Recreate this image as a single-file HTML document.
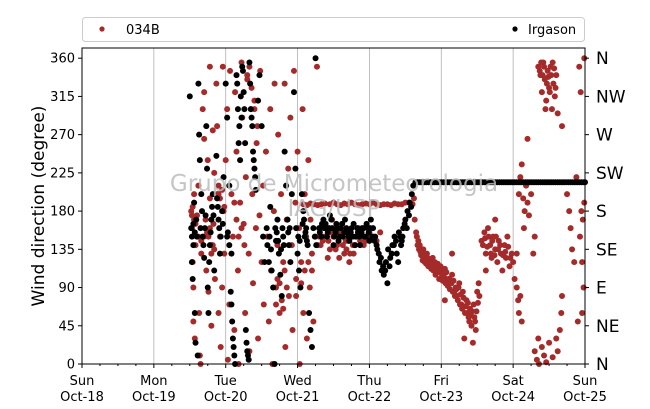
<!DOCTYPE html>
<html><head><meta charset="utf-8">
<style>
html,body{margin:0;padding:0;background:#fff;}
svg{display:block;font-family:"DejaVu Sans","Liberation Sans",sans-serif;}
</style></head>
<body>
<svg id="chart" width="650" height="409" viewBox="0 0 650 409"></svg>
<script>
const dayLabels=[["Sun","Oct-18"],["Mon","Oct-19"],["Tue","Oct-20"],["Wed","Oct-21"],["Thu","Oct-22"],["Fri","Oct-23"],["Sat","Oct-24"],["Sun","Oct-25"]];
const yTicks=[0,45,90,135,180,225,270,315,360];
const compassLabels=["N","NE","E","SE","S","SW","W","NW","N"];
const red034B=[
[1.52,180],[1.53,160],[1.54,120],[1.55,90],[1.55,50],[1.56,200],[1.57,30],[1.58,140],[1.6,175],[1.62,210],[1.63,60],[1.64,10],[1.65,0],[1.66,130],[1.68,300],[1.7,320],[1.7,265],[1.72,170],[1.73,110],[1.74,155],[1.75,240],[1.76,85],[1.78,350],[1.78,195],[1.8,140],[1.8,45],[1.82,275],[1.83,165],[1.84,225],[1.85,100],
[1.53,175],[1.54,185],[1.56,170],[1.58,165],[1.62,150],[1.66,145],[1.7,150],[1.76,150],[1.78,160],[1.8,130],[1.82,140],[1.84,135],
[1.87,330],[1.88,280],[1.9,200],[1.9,60],[1.92,150],[1.93,20],[1.95,90],[1.96,350],[1.97,180],[1.98,130],[2.0,240],[2.02,300],[2.03,5],[2.05,70],[2.06,345],[2.08,200],[2.1,150],[2.12,40],[2.13,320],[2.15,250],[2.17,110],[2.18,0],[2.2,190],[2.22,355],[2.23,290],[2.25,165],[2.27,60],[2.28,220],[2.3,340],[2.32,130],[2.33,15],[2.35,300],[2.37,200],[2.38,95],[2.4,310],[2.42,160],[2.43,260],[2.45,30],[2.47,175],[2.48,345],[2.5,120],[2.52,210],[2.53,70],
[1.88,200],[1.9,210],[1.92,195],[1.95,205],[1.98,185],[2.12,190],[2.15,170],[2.18,150],[2.22,160],[2.26,140],[2.3,335],[2.33,350],[2.36,325],[2.4,300],[2.44,280],
[2.56,250],[2.58,150],[2.6,50],[2.62,300],[2.63,110],[2.65,0],[2.67,180],[2.68,330],[2.7,90],[2.72,140],[2.73,270],[2.75,60],[2.77,200],[2.8,120],[2.82,330],[2.83,20],[2.85,170],[2.87,230],[2.88,80],[2.9,290],[2.92,140],[2.93,40],[2.95,345],[2.97,190],[2.98,100],[3.0,250],[3.02,160],[3.03,0],[3.05,120],[3.07,300],[3.08,60],[3.1,200],[3.12,150],[3.13,30],[3.15,240],[3.17,90],[3.18,170],[3.2,130],[3.22,50],[3.25,150],[3.27,350],[3.28,140],
[2.7,70],[2.72,100],[2.75,95],[2.78,75],[2.8,65],[2.82,110],[2.85,90],[2.98,80],[3.05,95],[3.1,110],[3.15,120],[3.2,110],
[3.3,150],[3.35,145],[3.4,160],[3.45,135],[3.5,150],[3.55,140],[3.6,155],[3.65,130],[3.7,145],[3.75,150],[3.8,140],[3.85,160],[3.9,150],[3.95,145],[4.0,155],[4.05,150],[4.1,145],[4.15,155],[3.42,125],[3.58,125],[3.72,120],[3.62,165],[3.48,170],[3.78,130],[3.68,135],[3.52,160],
[3.32,140],[3.37,150],[3.43,145],[3.47,155],[3.53,135],[3.57,150],[3.63,140],[3.67,145],[3.73,130],[3.77,140],[3.82,150],[3.87,145],[3.92,140],[3.97,150],
[3.08,188],[3.13,187],[3.18,189],[3.23,188],[3.28,187],[3.33,188],[3.38,189],[3.45,188],[3.5,190],[3.55,188],[3.6,187],[3.65,189],[3.7,188],[3.75,190],[3.8,188],[3.85,187],[3.9,188],[3.95,189],[4.0,188],[4.05,190],[4.1,188],[4.15,187],[4.2,188],[4.25,188],[4.3,187],[4.35,189],[4.4,188],[4.45,188],[4.5,190],[4.55,190],[4.6,188],[4.62,195],
[4.63,170],[4.65,155],[4.68,145],[4.7,140],[4.75,135],[4.78,125],[4.8,130],[4.85,120],[4.88,125],[4.9,115],[4.95,118],[5.0,110],[5.03,105],[5.05,112],[5.1,100],[5.13,95],[5.15,105],[5.2,90],[5.22,80],[5.25,95],[5.28,70],[5.3,85],[5.33,60],[5.35,75],[5.38,55],[5.4,65],[5.42,45],[5.45,70],[5.47,50],[5.5,85],[5.52,95],[5.05,75],[5.15,130],[5.32,30],[5.48,40],[5.44,25],[4.72,128],[4.83,118],[4.93,108],[5.08,98],[5.18,85],
[4.66,150],[4.67,140],[4.69,135],[4.71,132],[4.73,128],[4.74,122],[4.76,130],[4.77,120],[4.79,118],[4.81,125],[4.82,115],[4.84,122],[4.86,112],[4.87,118],[4.89,110],[4.91,120],[4.92,105],[4.94,112],[4.96,108],[4.97,100],[4.99,115],[5.01,105],[5.02,98],[5.04,102],[5.06,95],[5.07,108],[5.09,92],[5.11,100],[5.12,88],[5.14,95],[5.16,85],[5.17,98],[5.19,80],[5.21,88],[5.23,75],[5.24,90],[5.26,70],[5.27,82],[5.29,65],[5.31,78],[5.34,68],[5.36,60],[5.37,72],[5.39,50],[5.41,58],[5.43,62],[5.46,55],[5.49,62],[5.51,72],[5.53,80],
[5.56,145],[5.6,155],[5.62,130],[5.65,160],[5.68,140],[5.7,125],[5.72,150],[5.75,135],[5.78,120],[5.8,145],[5.83,130],[5.85,110],[5.88,140],[5.9,125],[5.92,150],[5.95,115],[5.98,130],[6.0,120],[6.02,100],[5.75,170],[5.62,110],
[5.58,140],[5.61,148],[5.64,138],[5.66,150],[5.69,130],[5.71,145],[5.74,128],[5.76,150],[5.79,135],[5.82,140],[5.86,128],[5.89,132],[5.93,138],[5.96,125],
[6.05,90],[6.07,75],[6.08,60],[6.1,80],[6.12,50],[6.05,130],
[6.08,200],[6.1,220],[6.12,235],[6.14,195],[6.16,180],[6.18,210],[6.2,190],[6.22,175],[6.25,200],[6.15,160],[6.3,150],[6.28,130],[6.2,265],
[6.3,15],[6.33,5],[6.36,0],[6.4,20],[6.43,10],[6.46,2],[6.5,25],[6.55,8],[6.6,30],[6.62,15],[6.65,40],[6.67,60],[6.68,80],[6.35,30],
[6.35,350],[6.38,340],[6.4,320],[6.42,355],[6.44,335],[6.46,310],[6.48,345],[6.5,325],[6.52,350],[6.54,300],[6.56,330],[6.58,315],[6.6,340],[6.62,295],[6.55,355],[6.45,300],[6.68,280],
[6.37,345],[6.39,355],[6.41,340],[6.43,350],[6.47,330],[6.49,338],[6.51,320],[6.53,340],[6.57,348],[6.59,325],
[6.75,200],[6.78,180],[6.8,160],[6.82,135],[6.85,120],[6.88,220],[6.9,50],[6.92,350],[6.95,180],[6.97,170],[6.99,190],[6.93,150],[6.96,120],[6.98,90],[6.94,320],[6.99,360],[6.96,60]
];
const blackIrgason=[
[1.5,315],[1.52,160],[1.53,120],[1.54,100],[1.55,140],[1.56,190],[1.57,60],[1.58,25],[1.6,150],[1.61,10],[1.62,330],[1.63,270],[1.64,240],[1.66,200],[1.67,180],[1.68,150],[1.7,125],[1.72,175],[1.73,280],[1.74,230],[1.75,90],[1.76,60],[1.78,140],[1.8,170],[1.82,200],[1.84,110],
[1.53,150],[1.55,165],[1.57,155],[1.59,170],[1.65,160],[1.69,140],[1.71,160],[1.77,120],[1.79,155],[1.81,185],[1.83,175],
[1.87,245],[1.88,195],[1.9,170],[1.92,130],[1.95,180],[1.97,220],[2.0,330],[2.02,290],[2.03,155],[2.05,210],[2.07,85],[2.08,70],[2.1,30],[2.12,10],[2.13,0],[2.15,340],[2.17,300],[2.18,260],[2.2,240],[2.22,290],[2.23,350],[2.25,320],[2.27,260],[2.28,40],[2.3,15],[2.32,5],[2.33,355],[2.35,300],[2.37,280],[2.38,250],[2.4,230],[2.42,205],[2.45,310],[2.47,340],[2.5,280],[2.52,150],[2.54,120],[2.02,150],[2.05,140],[2.08,130],
[1.89,185],[1.91,160],[1.93,150],[1.96,165],[2.09,50],[2.11,20],[2.16,330],[2.19,280],[2.21,315],[2.24,345],[2.26,300],[2.29,25],[2.31,10],[2.34,330],[2.36,290],[2.39,240],[2.41,220],
[2.57,160],[2.58,140],[2.6,120],[2.62,185],[2.64,110],[2.66,90],[2.68,0],[2.7,145],[2.72,170],[2.74,130],[2.76,105],[2.78,80],[2.8,150],[2.82,250],[2.84,210],[2.86,170],[2.88,140],[2.9,120],[2.92,200],[2.95,320],[2.97,230],[2.98,160],[3.0,130],[3.02,110],[3.04,90],[3.06,200],[3.08,180],[3.1,150],[3.12,160],[3.14,140],[3.16,60],[3.18,40],[3.2,20],[3.22,160],[3.24,150],[3.25,360],[3.26,140],
[2.61,150],[2.63,135],[2.69,160],[2.71,155],[2.73,145],[2.77,135],[2.79,160],[2.81,140],[2.87,155],[2.89,160],[3.01,150],[3.03,145],[3.07,165],[3.09,170],[3.11,155],[3.13,145],
[3.3,160],[3.33,150],[3.36,170],[3.39,165],[3.42,155],[3.45,175],[3.48,160],[3.51,150],[3.54,165],[3.57,145],[3.6,160],[3.63,150],[3.66,170],[3.69,155],[3.72,145],[3.75,160],[3.78,165],[3.81,150],[3.84,155],[3.87,140],[3.9,160],[3.93,150],[3.96,165],[3.99,155],[4.02,170],[4.05,160],[4.08,150],[4.11,135],[4.14,120],[4.17,110],[4.2,105],[4.23,120],[4.26,135],[4.29,125],[4.32,140],[4.35,150],[4.38,130],[4.41,155],[4.44,140],[4.47,160],[4.5,170],[4.53,180],[4.56,190],[4.59,200],[4.61,210],[4.25,95],[4.4,120],[4.45,145],[3.5,140],[3.8,140],[4.0,145],[4.52,160],
[3.31,155],[3.34,165],[3.37,160],[3.41,150],[3.44,160],[3.47,170],[3.53,155],[3.56,160],[3.59,150],[3.62,165],[3.65,155],[3.68,160],[3.71,150],[3.74,155],[3.77,150],[3.83,160],[3.86,150],[3.89,155],[3.92,160],[3.95,150],[3.98,160],[4.01,160],[4.04,150],[4.07,145],[4.1,140],[4.13,130],[4.16,125],[4.19,115],[4.22,110],[4.28,115],[4.31,130],[4.34,140],[4.37,145],[4.43,150],[4.46,150],[4.49,165],[4.55,175],[4.58,185],
[4.64,214],[4.67,214],[4.7,214],[4.73,214],[4.76,214],[4.79,214],[4.82,214],[4.85,214],[4.88,214],[4.91,214],[4.94,214],[4.97,214],[5.0,214],[5.03,214],[5.06,214],[5.09,214],[5.12,214],[5.15,214],[5.18,214],[5.21,214],[5.24,214],[5.27,214],[5.3,214],[5.33,214],[5.36,214],[5.39,214],[5.42,214],[5.45,214],[5.48,214],[5.51,214],[5.54,214],[5.57,214],[5.6,214],[5.63,214],[5.66,214],[5.69,214],[5.72,214],[5.75,214],[5.78,214],[5.81,214],[5.84,214],[5.87,214],[5.9,214],[5.93,214],[5.96,214],[5.99,214],[6.02,214],[6.05,214],[6.08,214],[6.11,214],[6.14,214],[6.17,214],[6.2,214],[6.23,214],[6.26,214],[6.29,214],[6.32,214],[6.35,214],[6.38,214],[6.41,214],[6.44,214],[6.47,214],[6.5,214],[6.53,214],[6.56,214],[6.59,214],[6.62,214],[6.65,214],[6.68,214],[6.71,214],[6.74,214],[6.77,214],[6.8,214],[6.83,214],[6.86,214],[6.89,214],[6.92,214],[6.95,214],[6.98,214],[7.0,214]
];

const NS="http://www.w3.org/2000/svg";
const svg=document.getElementById('chart');
const L=82,R=585,T=48,B=364,YMAX=372;
const xs=d=>L+d*(R-L)/7;
const ys=v=>B-v*(B-T)/YMAX;
function mk(tag,attrs,parent){const e=document.createElementNS(NS,tag);for(const k in attrs)e.setAttribute(k,attrs[k]);(parent||svg).appendChild(e);return e;}

dayLabels.forEach((lab,i)=>{
  if(i>0&&i<7){const g=mk('line',{x1:xs(i),x2:xs(i),y1:T,y2:B,stroke:'#b0b0b0','stroke-width':0.8});
  
  }
});
const gR=mk('g',{});
red034B.forEach(p=>{const c=mk('circle',{cx:xs(p[0]),cy:ys(p[1]),r:3,fill:'#a52a2a'},gR);

});
const gB=mk('g',{});
blackIrgason.forEach(p=>{const c=mk('circle',{cx:xs(p[0]),cy:ys(p[1]),r:3,fill:'#000'},gB);

});

const w1=mk('text',{x:334,y:191,'text-anchor':'middle','font-size':23,fill:'#bbb','fill-opacity':0.85});w1.textContent='Grupo de Micrometeorologia';

const w2=mk('text',{x:334,y:216,'text-anchor':'middle','font-size':23,fill:'#bbb','fill-opacity':0.85});w2.textContent='IAG/USP';


const fr=mk('rect',{x:L,y:T,width:R-L,height:B-T,fill:'none',stroke:'#000','stroke-width':1});


yTicks.forEach(v=>{
  mk('line',{x1:L-4,x2:L,y1:ys(v),y2:ys(v),stroke:'#000'});
  const t=mk('text',{x:L-7,y:ys(v)+4.5,'text-anchor':'end','font-size':13});t.textContent=v;
  
});
compassLabels.forEach((s,i)=>{
  mk('line',{x1:R,x2:R+4,y1:ys(yTicks[i]),y2:ys(yTicks[i]),stroke:'#000'});
  const t=mk('text',{x:R+11,y:ys(yTicks[i])+6,'font-size':17});t.textContent=s;
  
});
for(let q=0;q<=28;q++){const x=xs(q/4);mk('line',{x1:x,x2:x,y1:B,y2:B+(q%4===0?4:2),stroke:'#000'});}
dayLabels.forEach((lab,i)=>{
  const t=mk('text',{x:xs(i),y:385,'text-anchor':'middle','font-size':13});t.textContent=lab[0];
  
  const t2=mk('text',{x:xs(i),y:401,'text-anchor':'middle','font-size':13});t2.textContent=lab[1];
  
});
const yt=mk('text',{x:0,y:0,'text-anchor':'middle','font-size':17,transform:'translate(44,206) rotate(-90)'});yt.textContent='Wind direction (degree)';


const lg=mk('g',{});
mk('rect',{x:82.5,y:17.5,width:502,height:24,rx:3,fill:'#fff',stroke:'#ccc'},lg);
const e1=mk('g',{},lg);
mk('circle',{cx:102,cy:29,r:2.6,fill:'#a52a2a'},e1);
const lt1=mk('text',{x:126,y:34,'font-size':13},e1);lt1.textContent='034B';
const e2=mk('g',{},lg);
mk('circle',{cx:515,cy:29,r:2.6,fill:'#000'},e2);
const lt2=mk('text',{x:528,y:34,'font-size':13},e2);lt2.textContent='Irgason';
</script>
</body></html>
